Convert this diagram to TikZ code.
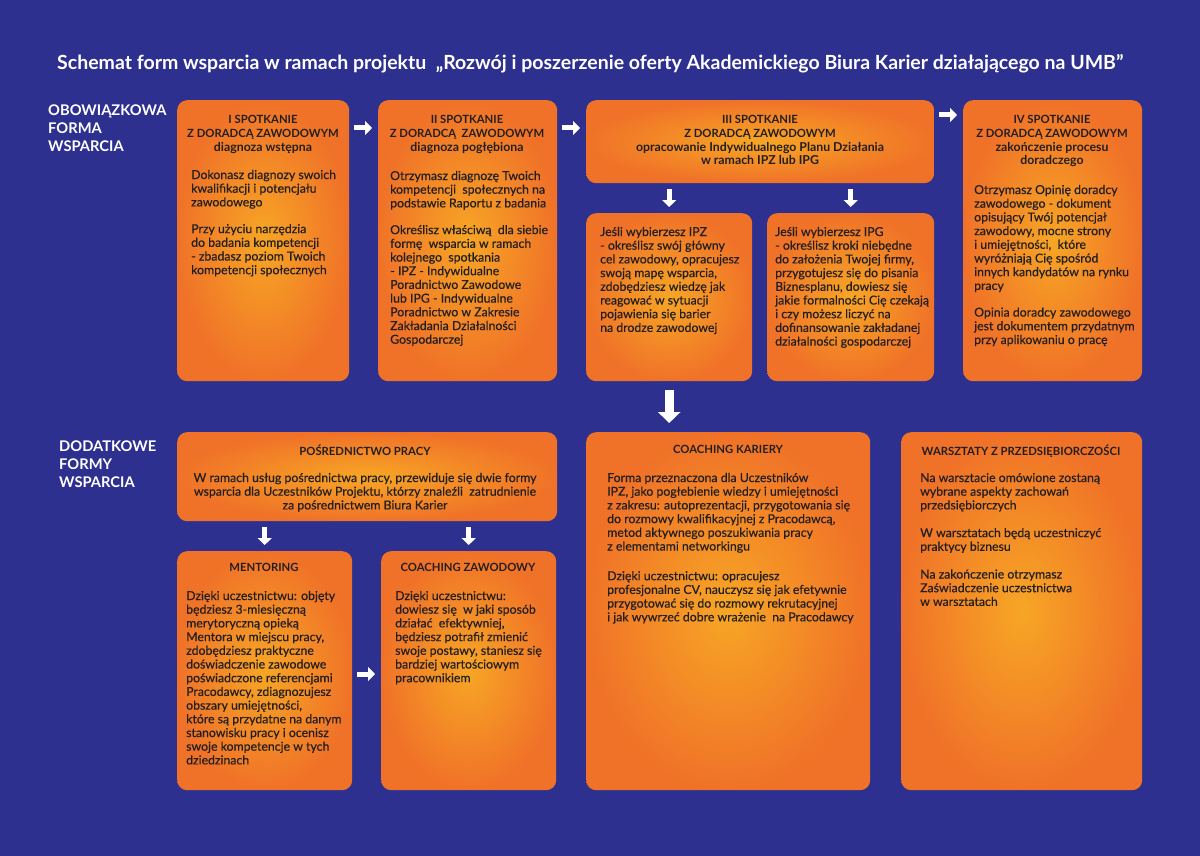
\documentclass[tikz,border=0pt]{standalone}
\usepackage{fontspec}
\setmainfont{Lato}
\newfontfamily\bodyfont[FakeBold=0.5]{Lato}
\usetikzlibrary{calc,arrows.meta}
\definecolor{bgblue}{RGB}{45,48,143}
\definecolor{orEdge}{RGB}{240,114,40}
\definecolor{orCenter}{RGB}{247,166,37}
\definecolor{txt}{RGB}{35,31,32}
\newcommand\tbl[2]{\parbox[t]{#1}{\raggedright #2}}
\newcommand\tbc[2]{\parbox[t]{#1}{\centering #2}}
\newcommand\lc{\fontsize{12.3}{13.6}\selectfont}
\tikzset{
 box/.style={shade, inner color=orCenter, outer color=orEdge, rounded corners=10pt, draw=none, inner sep=0, anchor=north west},
 head/.style={inner sep=0, anchor=base, font=\bfseries\fontsize{11.3}{13.6}\selectfont, text=txt},
 body/.style={inner sep=0, anchor=base west, font=\bodyfont\fontsize{12.3}{13.7}\selectfont, text=txt},
 bodyc/.style={body, anchor=base},
 side/.style={inner sep=0, anchor=base west, font=\bfseries\fontsize{14.7}{18}\selectfont, text=white},
 warrow/.style={draw=white, line width=5pt, -{Triangle[width=14pt,length=7pt]}},
 bigarrow/.style={draw=white, line width=9pt, -{Triangle[width=22pt,length=11pt]}},
}
\begin{document}
\begin{tikzpicture}[x=1pt,y=-1pt]
\useasboundingbox (0,0) rectangle (1200,856);
\fill[bgblue] (0,0) rectangle (1200,856);

% title
\node[inner sep=0, anchor=base west, text=white, font=\bfseries\fontsize{19.5}{22}\selectfont] (title) at (57,70)
 {Schemat form wsparcia w ramach projektu\ \ „Rozwój i poszerzenie oferty Akademickiego Biura Karier działającego na UMB"};

% side labels
\node[side] (lab1) at (48,116) {\tbl{150pt}{OBOWIĄZKOWA\\FORMA\\WSPARCIA}};
\node[side] (lab2) at (59,451) {\tbl{150pt}{DODATKOWE\\FORMY\\WSPARCIA}};

% boxes
\node[box, minimum width=172pt, minimum height=281pt] (b1) at (177,100) {};
\node[box, minimum width=179pt, minimum height=281pt] (b2) at (378,100) {};
\node[box, minimum width=348pt, minimum height=83pt] (b3) at (586,100) {};
\node[box, minimum width=166pt, minimum height=168pt] (b3a) at (586,213) {};
\node[box, minimum width=167pt, minimum height=168pt] (b3b) at (767,213) {};
\node[box, minimum width=179pt, minimum height=281pt] (b4) at (963,100) {};
\node[box, minimum width=380pt, minimum height=89pt] (p) at (177,432) {};
\node[box, minimum width=175pt, minimum height=239pt] (m) at (177,551) {};
\node[box, minimum width=175pt, minimum height=239pt] (cz) at (381,551) {};
\node[box, minimum width=284pt, minimum height=358pt] (ck) at (586,432) {};
\node[box, minimum width=241pt, minimum height=358pt] (w) at (901,432) {};

% arrows
\draw[warrow, shorten <=5pt, shorten >=6pt] ($(b1.north east)+(0,28)$) -- ($(b2.north west)+(0,28)$);
\draw[warrow, shorten <=5pt, shorten >=6pt] ($(b2.north east)+(0,28)$) -- ($(b3.north west)+(0,28)$);
\draw[warrow, shorten <=5pt, shorten >=6pt] ($(b3.north east)+(0,15)$) -- ($(b4.north west)+(0,15)$);
\draw[warrow, shorten <=6pt, shorten >=6pt] (b3.south -| b3a.north) -- (b3a.north);
\draw[warrow, shorten <=6pt, shorten >=6pt] (b3.south -| b3b.north) -- (b3b.north);
\draw[bigarrow, shorten <=9pt, shorten >=9pt] (b3a.south) -- (ck.north -| b3a.south);
\draw[warrow, shorten <=6pt, shorten >=6pt] (p.south -| m.north) -- (m.north);
\draw[warrow, shorten <=6pt, shorten >=6pt] (p.south -| cz.north) -- (cz.north);
\draw[warrow, shorten <=5pt, shorten >=6pt] ($(m.north east)+(0,123)$) -- ($(cz.north west)+(0,123)$);

% box I
\node[head] (b1h) at (263,124) {\tbc{170pt}{I SPOTKANIE\\Z DORADCĄ ZAWODOWYM\\\lc diagnoza wstępna}};
\node[body] (b1t) at (191,179) {\tbl{170pt}{Dokonasz diagnozy swoich\\kwalifikacji i potencjału\\zawodowego\\[13pt]Przy użyciu narzędzia\\do badania kompetencji\\- zbadasz poziom Twoich\\kompetencji społecznych}};

% box II
\node[head] (b2h) at (467,124) {\tbc{178pt}{II SPOTKANIE\\Z DORADCĄ\ \ ZAWODOWYM\\\lc diagnoza pogłębiona}};
\node[body] (b2t) at (390,180) {\tbl{178pt}{Otrzymasz diagnozę Twoich\\kompetencji\ \ społecznych na\\podstawie Raportu z badania\\[13pt]Określisz właściwą\ \ dla siebie\\formę\ \ wsparcia w ramach\\kolejnego\ \ spotkania\\- IPZ - Indywidualne\\Poradnictwo Zawodowe\\lub IPG - Indywidualne\\Poradnictwo w Zakresie\\Zakładania Działalności\\Gospodarczej}};

% box III
\node[head] (b3h) at (760,124) {\tbc{340pt}{III SPOTKANIE\\Z DORADCĄ ZAWODOWYM\\\lc opracowanie Indywidualnego Planu Działania\\\lc w ramach IPZ lub IPG}};
\node[body] (b3at) at (600,236) {\tbl{165pt}{Jeśli wybierzesz IPZ\\- określisz swój główny\\cel zawodowy, opracujesz\\swoją mapę wsparcia,\\zdobędziesz wiedzę jak\\reagować w sytuacji\\pojawienia się barier\\na drodze zawodowej}};
\node[body] (b3bt) at (775,236) {\tbl{165pt}{Jeśli wybierzesz IPG\\- określisz kroki niebędne\\do założenia Twojej firmy,\\przygotujesz się do pisania\\Biznesplanu, dowiesz się\\jakie formalności Cię czekają\\i czy możesz liczyć na\\dofinansowanie zakładanej\\działalności gospodarczej}};

% box IV
\node[head] (b4h) at (1052,124) {\tbc{178pt}{IV SPOTKANIE\\Z DORADCĄ ZAWODOWYM\\\lc zakończenie procesu\\\lc doradczego}};
\node[body] (b4t) at (974,194) {\tbl{178pt}{Otrzymasz Opinię doradcy\\zawodowego - dokument\\opisujący Twój potencjał\\zawodowy, mocne strony\\i umiejętności,\ \ które\\wyróżniają Cię spośród\\innych kandydatów na rynku\\pracy\\[13pt]Opinia doradcy zawodowego\\jest dokumentem przydatnym\\przy aplikowaniu o pracę}};

% posrednictwo
\node[head] (ph) at (365,455) {\tbc{370pt}{POŚREDNICTWO PRACY}};
\node[bodyc] (pt) at (365,482) {\tbc{378pt}{W ramach usług pośrednictwa pracy, przewiduje się dwie formy\\wsparcia dla Uczestników Projektu, którzy znaleźli\ \ zatrudnienie\\za pośrednictwem Biura Karier}};

% mentoring
\node[head] (mh) at (264,571) {\tbc{170pt}{MENTORING}};
\node[body] (mt) at (186,600) {\tbl{170pt}{Dzięki uczestnictwu: objęty\\będziesz 3-miesięczną\\merytoryczną opieką\\Mentora w miejscu pracy,\\zdobędziesz praktyczne\\doświadczenie zawodowe\\poświadczone referencjami\\Pracodawcy, zdiagnozujesz\\obszary umiejętności,\\które są przydatne na danym\\stanowisku pracy i ocenisz\\swoje kompetencje w tych\\dziedzinach}};

% coaching zawodowy
\node[head] (czh) at (468,571) {\tbc{170pt}{COACHING ZAWODOWY}};
\node[body] (czt) at (395,600) {\tbl{170pt}{Dzięki uczestnictwu:\\dowiesz się\ \ w jaki sposób\\działać\ \ efektywniej,\\będziesz potrafił zmienić\\swoje postawy, staniesz się\\bardziej wartościowym\\pracownikiem}};

% coaching kariery
\node[head] (ckh) at (728,453) {\tbc{270pt}{COACHING KARIERY}};
\node[body] (ckt) at (607,482) {\tbl{270pt}{Forma przeznaczona dla Uczestników\\IPZ, jako pogłebienie wiedzy i umiejętności\\z zakresu: autoprezentacji, przygotowania się\\do rozmowy kwalifikacyjnej z Pracodawcą,\\metod aktywnego poszukiwania pracy\\z elementami networkingu\\[16pt]Dzięki uczestnictwu: opracujesz\\profesjonalne CV, nauczysz się jak efetywnie\\przygotować się do rozmowy rekrutacyjnej\\i jak wywrzeć dobre wrażenie\ \ na Pracodawcy}};

% warsztaty
\node[head] (wh) at (1021,455) {\tbc{240pt}{WARSZTATY Z PRZEDSIĘBIORCZOŚCI}};
\node[body] (wt) at (920,482) {\tbl{220pt}{Na warsztacie omówione zostaną\\wybrane aspekty zachowań\\przedsiębiorczych\\[14pt]W warsztatach będą uczestniczyć\\praktycy biznesu\\[14pt]Na zakończenie otrzymasz\\Zaświadczenie uczestnictwa\\w warsztatach}};
\end{tikzpicture}
\end{document}
